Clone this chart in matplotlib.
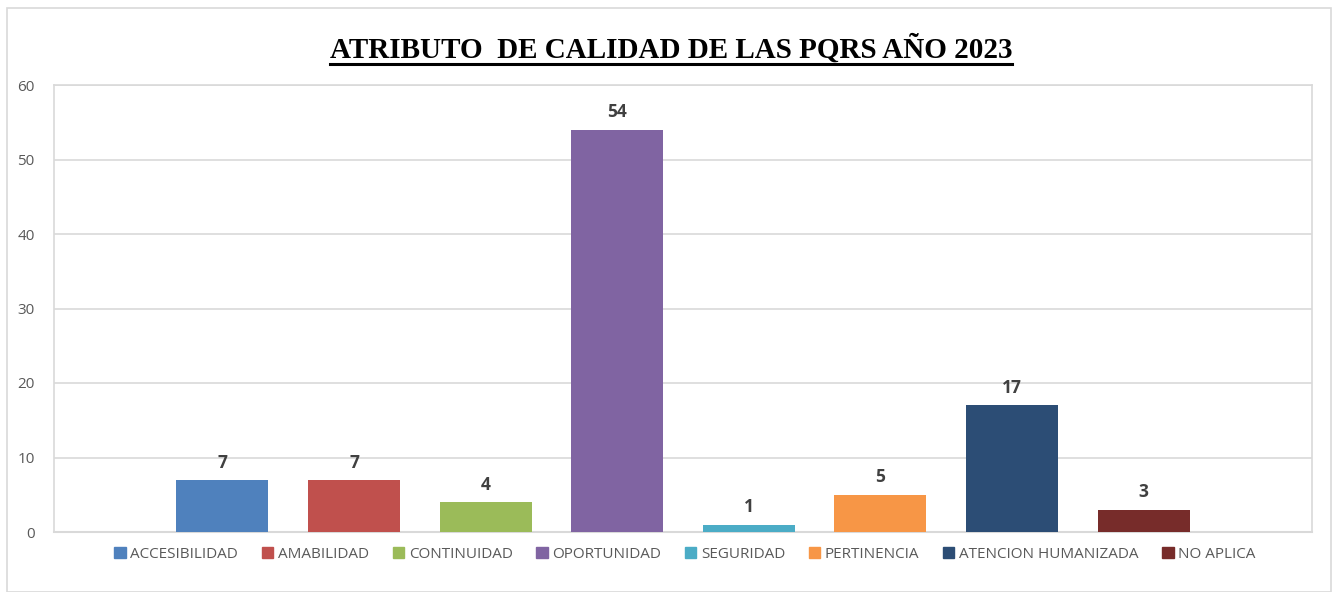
import matplotlib
matplotlib.use("Agg")
import matplotlib.pyplot as plt
from matplotlib.patches import Rectangle
from matplotlib.lines import Line2D

categories = ["ACCESIBILIDAD", "AMABILIDAD", "CONTINUIDAD", "OPORTUNIDAD",
              "SEGURIDAD", "PERTINENCIA", "ATENCION HUMANIZADA", "NO APLICA"]
values = [7, 7, 4, 54, 1, 5, 17, 3]
colors = ["#4F81BD", "#C0504D", "#9BBB59", "#8064A2",
          "#4BACC6", "#F79646", "#2C4D75", "#772C2A"]
yticks = [0, 10, 20, 30, 40, 50, 60]
title = "ATRIBUTO  DE CALIDAD DE LAS PQRS AÑO 2023"

W, H = 1332, 592
fig = plt.figure(figsize=(W / 100, H / 100), dpi=100)
fig.patch.set_facecolor("white")

# outer chart border
fig.patches.append(Rectangle((7 / W, 0), (W - 8) / W, (H - 8) / H, transform=fig.transFigure,
                             fill=False, edgecolor="#D9D9D9", linewidth=1.2))

left, right, top, bottom = 54, 1312, 85, 532
ax = fig.add_axes([left / W, 1 - bottom / H, (right - left) / W, (bottom - top) / H])

x = list(range(len(categories)))
bars = ax.bar(x, values, width=0.70, color=colors, zorder=3)
ax.set_xlim(-1.28, len(categories) - 1 + 1.28)
ax.set_ylim(0, 60)
ax.set_yticks(yticks)
ax.set_xticks([])
ax.grid(axis="y", color="#D9D9D9", linewidth=1.2, zorder=0)
for s in ["top", "left", "right"]:
    ax.spines[s].set_color("#D9D9D9")
    ax.spines[s].set_linewidth(1.2)
ax.spines["bottom"].set_color("#D9D9D9")
ax.spines["bottom"].set_linewidth(1.5)
ax.tick_params(axis="y", length=0, pad=14, labelsize=11, labelcolor="#595959")
for lab in ax.get_yticklabels():
    lab.set_family("Open Sans")

for b, v in zip(bars, values):
    ax.annotate(str(v), (b.get_x() + b.get_width() / 2, v), xytext=(0, 6),
                textcoords="offset points", ha="center", va="bottom",
                fontsize=12.5, fontweight="bold", color="#404040", family="Open Sans")

# title
t = fig.text(671 / W, 1 - 48.5 / H, title, ha="center", va="center",
             fontsize=21, fontweight="bold", family="Liberation Serif", color="black")
fig.canvas.draw()
bb = t.get_window_extent()
fig.add_artist(Line2D([bb.x0 / W, bb.x1 / W], [(H - 64) / H, (H - 64) / H],
                      transform=fig.transFigure, color="black", linewidth=2.2))

handles = [Rectangle((0, 0), 1, 1, color=c) for c in colors]
leg = fig.legend(handles, categories, loc="center", bbox_to_anchor=(0.5 + 19 / W, 1 - 554 / H),
                 ncol=8, frameon=False, handlelength=0.75, handleheight=0.75,
                 handletextpad=0.3, columnspacing=1.55,
                 prop={"family": "Open Sans", "size": 11})
for txt in leg.get_texts():
    txt.set_color("#595959")

fig.savefig("out.png", dpi=100)
